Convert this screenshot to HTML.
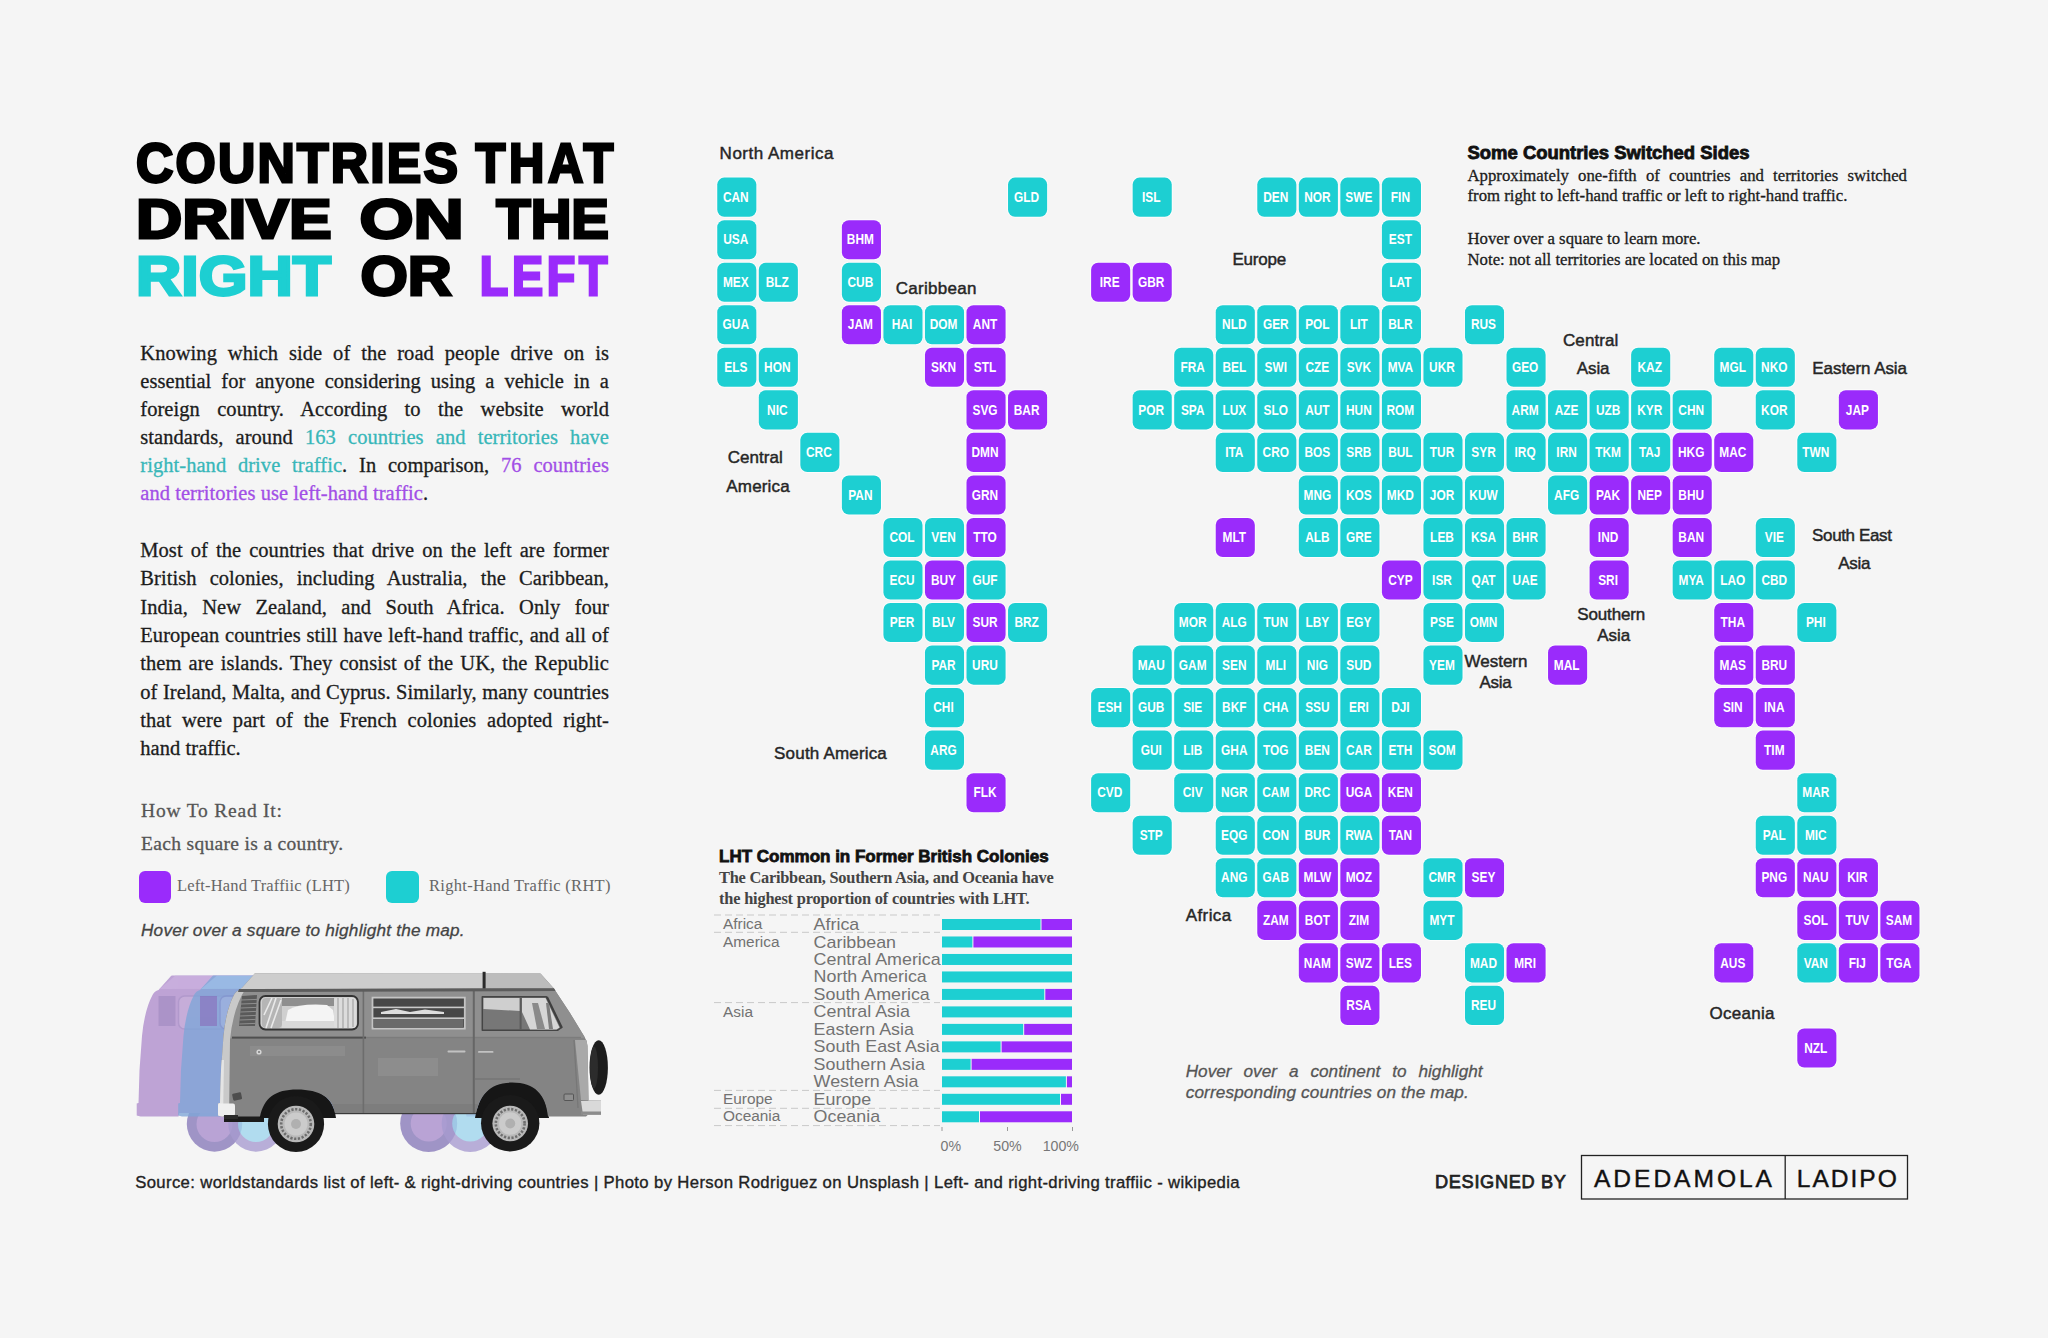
<!DOCTYPE html>
<html lang="en"><head><meta charset="utf-8">
<title>Countries that drive on the right or left</title>
<style>

html,body{margin:0;padding:0;}
body{width:2048px;height:1338px;background:#f5f5f5;position:relative;overflow:hidden;
 font-family:"Liberation Sans", sans-serif;}
#cv{position:absolute;left:0;top:0;width:2048px;height:1338px;}
#cv text{font-family:"Liberation Sans", sans-serif;}
#cv .sf{font-family:"Liberation Serif", serif;}
.j{-webkit-text-stroke:0.3px currentColor;position:absolute;white-space:nowrap;text-align:justify;text-align-last:justify;
 font-family:"Liberation Serif", serif;line-height:1;color:#1c1c1c;}
.j.l{text-align:left;text-align-last:left;}
.tl{color:#38b7b9;}
.pp{color:#a24fe6;}
.tile rect{stroke:#fff;stroke-width:2px;stroke-opacity:.7;paint-order:stroke;}
.tile text{font-weight:bold;font-size:14.5px;fill:#fff;text-anchor:middle;}

</style></head><body>
<div id="paras">
<div class="j" style="left:140.3px;top:342.63px;width:468.7px;font-size:20.5px;letter-spacing:0.05px;">Knowing which side of the road people drive on is</div>
<div class="j" style="left:140.3px;top:370.83px;width:468.7px;font-size:20.5px;letter-spacing:0.05px;">essential for anyone considering using a vehicle in a</div>
<div class="j" style="left:140.3px;top:398.93px;width:468.7px;font-size:20.5px;letter-spacing:0.05px;">foreign country. According to the website world</div>
<div class="j" style="left:140.3px;top:427.03px;width:468.7px;font-size:20.5px;letter-spacing:0.05px;">standards, around <span class="tl">163 countries and territories have</span></div>
<div class="j" style="left:140.3px;top:455.13px;width:468.7px;font-size:20.5px;letter-spacing:0.05px;"><span class="tl">right-hand drive traffic</span>. In comparison, <span class="pp">76 countries</span></div>
<div class="j l" style="left:140.3px;top:483.23px;width:468.7px;font-size:20.5px;letter-spacing:0.05px;"><span class="pp">and territories use left-hand traffic</span>.</div>
<div class="j" style="left:140.3px;top:540.13px;width:468.7px;font-size:20.5px;letter-spacing:0.05px;">Most of the countries that drive on the left are former</div>
<div class="j" style="left:140.3px;top:568.43px;width:468.7px;font-size:20.5px;letter-spacing:0.05px;">British colonies, including Australia, the Caribbean,</div>
<div class="j" style="left:140.3px;top:596.73px;width:468.7px;font-size:20.5px;letter-spacing:0.05px;">India, New Zealand, and South Africa. Only four</div>
<div class="j" style="left:140.3px;top:625.03px;width:468.7px;font-size:20.5px;letter-spacing:0.05px;">European countries still have left-hand traffic, and all of</div>
<div class="j" style="left:140.3px;top:653.33px;width:468.7px;font-size:20.5px;letter-spacing:0.05px;">them are islands. They consist of the UK, the Republic</div>
<div class="j" style="left:140.3px;top:681.63px;width:468.7px;font-size:20.5px;letter-spacing:0.05px;">of Ireland, Malta, and Cyprus. Similarly, many countries</div>
<div class="j" style="left:140.3px;top:709.93px;width:468.7px;font-size:20.5px;letter-spacing:0.05px;">that were part of the French colonies adopted right-</div>
<div class="j l" style="left:140.3px;top:738.13px;width:468.7px;font-size:20.5px;letter-spacing:0.05px;">hand traffic.</div>
</div>
<div id="notes">
<div class="j" style="left:1467.5px;top:167.67px;width:439.5px;font-size:16.75px;">Approximately one-fifth of countries and territories switched</div>
<div class="j l" style="left:1467.5px;top:188.47px;width:380.0px;font-size:16.75px;">from right to left-hand traffic or left to right-hand traffic.</div>
<div class="j l" style="left:1467.5px;top:230.97px;width:380.0px;font-size:16.75px;">Hover over a square to learn more.</div>
<div class="j l" style="left:1467.5px;top:252.47px;width:380.0px;font-size:16.75px;">Note: not all territories are located on this map</div>
</div>
<svg id="cv" width="2048" height="1338" viewBox="0 0 2048 1338">
<g id="headline">
<text transform="translate(136.0 181.8) scale(0.93 1)" font-size="55.6" font-weight="bold" fill="#000" textLength="346.2" lengthAdjust="spacing" stroke="#000" stroke-width="2.8" stroke-linejoin="miter" stroke-miterlimit="3">COUNTRIES</text>
<text transform="translate(475.4 181.8) scale(0.88 1)" font-size="55.6" font-weight="bold" fill="#000" textLength="156.8" lengthAdjust="spacing" stroke="#000" stroke-width="2.8" stroke-linejoin="miter" stroke-miterlimit="3">THAT</text>
<text x="136.0" y="238.0" font-size="55.6" font-weight="bold" font-style="normal" fill="#000" text-anchor="start" textLength="195.6" lengthAdjust="spacingAndGlyphs" stroke="#000" stroke-width="2.8" stroke-linejoin="miter" stroke-miterlimit="3">DRIVE</text>
<text x="359.4" y="238.0" font-size="55.6" font-weight="bold" font-style="normal" fill="#000" text-anchor="start" textLength="104.2" lengthAdjust="spacingAndGlyphs" stroke="#000" stroke-width="2.8" stroke-linejoin="miter" stroke-miterlimit="3">ON</text>
<text x="496.2" y="238.0" font-size="55.6" font-weight="bold" font-style="normal" fill="#000" text-anchor="start" textLength="112.8" lengthAdjust="spacingAndGlyphs" stroke="#000" stroke-width="2.8" stroke-linejoin="miter" stroke-miterlimit="3">THE</text>
<text x="136.0" y="294.8" font-size="55.6" font-weight="bold" font-style="normal" fill="#1dcfd2" text-anchor="start" textLength="195.0" lengthAdjust="spacingAndGlyphs" stroke="#1dcfd2" stroke-width="2.8" stroke-linejoin="miter" stroke-miterlimit="3">RIGHT</text>
<text x="360.4" y="294.8" font-size="55.6" font-weight="bold" font-style="normal" fill="#000" text-anchor="start" textLength="91.4" lengthAdjust="spacingAndGlyphs" stroke="#000" stroke-width="2.8" stroke-linejoin="miter" stroke-miterlimit="3">OR</text>
<text transform="translate(479.8 294.8) scale(0.84 1)" font-size="55.6" font-weight="bold" fill="#9a2bfb" textLength="152.1" lengthAdjust="spacing" stroke="#9a2bfb" stroke-width="2.8" stroke-linejoin="miter" stroke-miterlimit="3">LEFT</text>
</g>
<g id="howto">
<text x="141.0" y="817.3" font-size="19.5" font-weight="normal" font-style="normal" fill="#555" text-anchor="start" textLength="141.0" lengthAdjust="spacing" class="sf" stroke="#555" stroke-width=".3">How To Read It:</text>
<text x="141.0" y="849.8" font-size="19.5" font-weight="normal" font-style="normal" fill="#555" text-anchor="start" textLength="202.0" lengthAdjust="spacing" class="sf" stroke="#555" stroke-width=".3">Each square is a country.</text>
<rect x="139" y="871" width="32" height="32" rx="6" fill="#9a2bfb"/>
<rect x="386" y="871" width="33" height="32" rx="6" fill="#1dcfd2"/>
<text x="177.0" y="891.3" font-size="16.5" font-weight="normal" font-style="normal" fill="#666" text-anchor="start" textLength="172.7" lengthAdjust="spacing" class="sf">Left-Hand Traffiic (LHT)</text>
<text x="429.0" y="891.3" font-size="16.5" font-weight="normal" font-style="normal" fill="#666" text-anchor="start" textLength="181.5" lengthAdjust="spacing" class="sf">Right-Hand Traffic (RHT)</text>
<text x="141.0" y="935.8" font-size="17.2" font-weight="normal" font-style="italic" fill="#444" text-anchor="start" textLength="323.5" lengthAdjust="spacing" stroke="#444" stroke-width=".3">Hover over a square to highlight the map.</text>
</g>
<g id="labels">
<text x="719.6" y="158.8" font-size="17" font-weight="normal" font-style="normal" fill="#262626" text-anchor="start" textLength="113.8" lengthAdjust="spacing" stroke="#262626" stroke-width=".45">North America</text>
<text x="895.7" y="293.5" font-size="17" font-weight="normal" font-style="normal" fill="#262626" text-anchor="start" textLength="80.8" lengthAdjust="spacing" stroke="#262626" stroke-width=".45">Caribbean</text>
<text x="727.8" y="462.9" font-size="17" font-weight="normal" font-style="normal" fill="#262626" text-anchor="start" textLength="55.0" lengthAdjust="spacing" stroke="#262626" stroke-width=".45">Central</text>
<text x="726.3" y="491.9" font-size="17" font-weight="normal" font-style="normal" fill="#262626" text-anchor="start" textLength="63.4" lengthAdjust="spacing" stroke="#262626" stroke-width=".45">America</text>
<text x="774.1" y="758.8" font-size="17" font-weight="normal" font-style="normal" fill="#262626" text-anchor="start" textLength="112.7" lengthAdjust="spacing" stroke="#262626" stroke-width=".45">South America</text>
<text x="1232.5" y="265.2" font-size="17" font-weight="normal" font-style="normal" fill="#262626" text-anchor="start" textLength="53.6" lengthAdjust="spacing" stroke="#262626" stroke-width=".45">Europe</text>
<text x="1563.0" y="345.9" font-size="17" font-weight="normal" font-style="normal" fill="#262626" text-anchor="start" textLength="55.4" lengthAdjust="spacing" stroke="#262626" stroke-width=".45">Central</text>
<text x="1576.8" y="373.9" font-size="17" font-weight="normal" font-style="normal" fill="#262626" text-anchor="start" textLength="32.7" lengthAdjust="spacing" stroke="#262626" stroke-width=".45">Asia</text>
<text x="1812.3" y="373.9" font-size="17" font-weight="normal" font-style="normal" fill="#262626" text-anchor="start" textLength="94.7" lengthAdjust="spacing" stroke="#262626" stroke-width=".45">Eastern Asia</text>
<text x="1812.1" y="541.1" font-size="17" font-weight="normal" font-style="normal" fill="#262626" text-anchor="start" textLength="79.8" lengthAdjust="spacing" stroke="#262626" stroke-width=".45">South East</text>
<text x="1838.3" y="568.6" font-size="17" font-weight="normal" font-style="normal" fill="#262626" text-anchor="start" textLength="32.1" lengthAdjust="spacing" stroke="#262626" stroke-width=".45">Asia</text>
<text x="1577.3" y="620.1" font-size="17" font-weight="normal" font-style="normal" fill="#262626" text-anchor="start" textLength="68.0" lengthAdjust="spacing" stroke="#262626" stroke-width=".45">Southern</text>
<text x="1597.2" y="640.5" font-size="17" font-weight="normal" font-style="normal" fill="#262626" text-anchor="start" textLength="32.9" lengthAdjust="spacing" stroke="#262626" stroke-width=".45">Asia</text>
<text x="1464.5" y="666.7" font-size="17" font-weight="normal" font-style="normal" fill="#262626" text-anchor="start" textLength="63.0" lengthAdjust="spacing" stroke="#262626" stroke-width=".45">Western</text>
<text x="1479.4" y="687.7" font-size="17" font-weight="normal" font-style="normal" fill="#262626" text-anchor="start" textLength="32.2" lengthAdjust="spacing" stroke="#262626" stroke-width=".45">Asia</text>
<text x="1185.7" y="921.4" font-size="17" font-weight="normal" font-style="normal" fill="#262626" text-anchor="start" textLength="45.5" lengthAdjust="spacing" stroke="#262626" stroke-width=".45">Africa</text>
<text x="1709.6" y="1019.0" font-size="17" font-weight="normal" font-style="normal" fill="#262626" text-anchor="start" textLength="64.9" lengthAdjust="spacing" stroke="#262626" stroke-width=".45">Oceania</text>
</g>
<text x="1467.5" y="159.4" font-size="17.5" font-weight="bold" font-style="normal" fill="#111" text-anchor="start" textLength="282.0" lengthAdjust="spacingAndGlyphs" stroke="#111" stroke-width=".8">Some Countries Switched Sides</text>
<g id="hovernote" font-style="italic">
<text x="1185.7" y="1077.0" font-size="17.2" font-weight="normal" font-style="italic" fill="#555" text-anchor="start" word-spacing="7.2" stroke="#555" stroke-width=".3">Hover over a continent to highlight</text>
<text x="1185.7" y="1097.7" font-size="17.2" font-weight="normal" font-style="italic" fill="#555" text-anchor="start" textLength="283.1" lengthAdjust="spacing" stroke="#555" stroke-width=".3">corresponding countries on the map.</text>
</g>
<g id="tiles">
<g class="tile"><rect x="717.25" y="177.60" width="39.1" height="39.1" rx="7" fill="#1dcfd2"/><text transform="translate(735.8 201.8) scale(.82 1)">CAN</text></g>
<g class="tile"><rect x="1008.03" y="177.60" width="39.1" height="39.1" rx="7" fill="#1dcfd2"/><text transform="translate(1026.6 201.8) scale(.82 1)">GLD</text></g>
<g class="tile"><rect x="1132.65" y="177.60" width="39.1" height="39.1" rx="7" fill="#1dcfd2"/><text transform="translate(1151.2 201.8) scale(.82 1)">ISL</text></g>
<g class="tile"><rect x="1257.27" y="177.60" width="39.1" height="39.1" rx="7" fill="#1dcfd2"/><text transform="translate(1275.8 201.8) scale(.82 1)">DEN</text></g>
<g class="tile"><rect x="1298.81" y="177.60" width="39.1" height="39.1" rx="7" fill="#1dcfd2"/><text transform="translate(1317.4 201.8) scale(.82 1)">NOR</text></g>
<g class="tile"><rect x="1340.35" y="177.60" width="39.1" height="39.1" rx="7" fill="#1dcfd2"/><text transform="translate(1358.9 201.8) scale(.82 1)">SWE</text></g>
<g class="tile"><rect x="1381.89" y="177.60" width="39.1" height="39.1" rx="7" fill="#1dcfd2"/><text transform="translate(1400.4 201.8) scale(.82 1)">FIN</text></g>
<g class="tile"><rect x="717.25" y="220.14" width="39.1" height="39.1" rx="7" fill="#1dcfd2"/><text transform="translate(735.8 244.3) scale(.82 1)">USA</text></g>
<g class="tile"><rect x="841.87" y="220.14" width="39.1" height="39.1" rx="7" fill="#9a2bfb"/><text transform="translate(860.4 244.3) scale(.82 1)">BHM</text></g>
<g class="tile"><rect x="1381.89" y="220.14" width="39.1" height="39.1" rx="7" fill="#1dcfd2"/><text transform="translate(1400.4 244.3) scale(.82 1)">EST</text></g>
<g class="tile"><rect x="717.25" y="262.68" width="39.1" height="39.1" rx="7" fill="#1dcfd2"/><text transform="translate(735.8 286.8) scale(.82 1)">MEX</text></g>
<g class="tile"><rect x="758.79" y="262.68" width="39.1" height="39.1" rx="7" fill="#1dcfd2"/><text transform="translate(777.3 286.8) scale(.82 1)">BLZ</text></g>
<g class="tile"><rect x="841.87" y="262.68" width="39.1" height="39.1" rx="7" fill="#1dcfd2"/><text transform="translate(860.4 286.8) scale(.82 1)">CUB</text></g>
<g class="tile"><rect x="1091.11" y="262.68" width="39.1" height="39.1" rx="7" fill="#9a2bfb"/><text transform="translate(1109.7 286.8) scale(.82 1)">IRE</text></g>
<g class="tile"><rect x="1132.65" y="262.68" width="39.1" height="39.1" rx="7" fill="#9a2bfb"/><text transform="translate(1151.2 286.8) scale(.82 1)">GBR</text></g>
<g class="tile"><rect x="1381.89" y="262.68" width="39.1" height="39.1" rx="7" fill="#1dcfd2"/><text transform="translate(1400.4 286.8) scale(.82 1)">LAT</text></g>
<g class="tile"><rect x="717.25" y="305.22" width="39.1" height="39.1" rx="7" fill="#1dcfd2"/><text transform="translate(735.8 329.4) scale(.82 1)">GUA</text></g>
<g class="tile"><rect x="841.87" y="305.22" width="39.1" height="39.1" rx="7" fill="#9a2bfb"/><text transform="translate(860.4 329.4) scale(.82 1)">JAM</text></g>
<g class="tile"><rect x="883.41" y="305.22" width="39.1" height="39.1" rx="7" fill="#1dcfd2"/><text transform="translate(902.0 329.4) scale(.82 1)">HAI</text></g>
<g class="tile"><rect x="924.95" y="305.22" width="39.1" height="39.1" rx="7" fill="#1dcfd2"/><text transform="translate(943.5 329.4) scale(.82 1)">DOM</text></g>
<g class="tile"><rect x="966.49" y="305.22" width="39.1" height="39.1" rx="7" fill="#9a2bfb"/><text transform="translate(985.0 329.4) scale(.82 1)">ANT</text></g>
<g class="tile"><rect x="1215.73" y="305.22" width="39.1" height="39.1" rx="7" fill="#1dcfd2"/><text transform="translate(1234.3 329.4) scale(.82 1)">NLD</text></g>
<g class="tile"><rect x="1257.27" y="305.22" width="39.1" height="39.1" rx="7" fill="#1dcfd2"/><text transform="translate(1275.8 329.4) scale(.82 1)">GER</text></g>
<g class="tile"><rect x="1298.81" y="305.22" width="39.1" height="39.1" rx="7" fill="#1dcfd2"/><text transform="translate(1317.4 329.4) scale(.82 1)">POL</text></g>
<g class="tile"><rect x="1340.35" y="305.22" width="39.1" height="39.1" rx="7" fill="#1dcfd2"/><text transform="translate(1358.9 329.4) scale(.82 1)">LIT</text></g>
<g class="tile"><rect x="1381.89" y="305.22" width="39.1" height="39.1" rx="7" fill="#1dcfd2"/><text transform="translate(1400.4 329.4) scale(.82 1)">BLR</text></g>
<g class="tile"><rect x="1464.97" y="305.22" width="39.1" height="39.1" rx="7" fill="#1dcfd2"/><text transform="translate(1483.5 329.4) scale(.82 1)">RUS</text></g>
<g class="tile"><rect x="717.25" y="347.76" width="39.1" height="39.1" rx="7" fill="#1dcfd2"/><text transform="translate(735.8 371.9) scale(.82 1)">ELS</text></g>
<g class="tile"><rect x="758.79" y="347.76" width="39.1" height="39.1" rx="7" fill="#1dcfd2"/><text transform="translate(777.3 371.9) scale(.82 1)">HON</text></g>
<g class="tile"><rect x="924.95" y="347.76" width="39.1" height="39.1" rx="7" fill="#9a2bfb"/><text transform="translate(943.5 371.9) scale(.82 1)">SKN</text></g>
<g class="tile"><rect x="966.49" y="347.76" width="39.1" height="39.1" rx="7" fill="#9a2bfb"/><text transform="translate(985.0 371.9) scale(.82 1)">STL</text></g>
<g class="tile"><rect x="1174.19" y="347.76" width="39.1" height="39.1" rx="7" fill="#1dcfd2"/><text transform="translate(1192.7 371.9) scale(.82 1)">FRA</text></g>
<g class="tile"><rect x="1215.73" y="347.76" width="39.1" height="39.1" rx="7" fill="#1dcfd2"/><text transform="translate(1234.3 371.9) scale(.82 1)">BEL</text></g>
<g class="tile"><rect x="1257.27" y="347.76" width="39.1" height="39.1" rx="7" fill="#1dcfd2"/><text transform="translate(1275.8 371.9) scale(.82 1)">SWI</text></g>
<g class="tile"><rect x="1298.81" y="347.76" width="39.1" height="39.1" rx="7" fill="#1dcfd2"/><text transform="translate(1317.4 371.9) scale(.82 1)">CZE</text></g>
<g class="tile"><rect x="1340.35" y="347.76" width="39.1" height="39.1" rx="7" fill="#1dcfd2"/><text transform="translate(1358.9 371.9) scale(.82 1)">SVK</text></g>
<g class="tile"><rect x="1381.89" y="347.76" width="39.1" height="39.1" rx="7" fill="#1dcfd2"/><text transform="translate(1400.4 371.9) scale(.82 1)">MVA</text></g>
<g class="tile"><rect x="1423.43" y="347.76" width="39.1" height="39.1" rx="7" fill="#1dcfd2"/><text transform="translate(1442.0 371.9) scale(.82 1)">UKR</text></g>
<g class="tile"><rect x="1506.51" y="347.76" width="39.1" height="39.1" rx="7" fill="#1dcfd2"/><text transform="translate(1525.1 371.9) scale(.82 1)">GEO</text></g>
<g class="tile"><rect x="1631.13" y="347.76" width="39.1" height="39.1" rx="7" fill="#1dcfd2"/><text transform="translate(1649.7 371.9) scale(.82 1)">KAZ</text></g>
<g class="tile"><rect x="1714.21" y="347.76" width="39.1" height="39.1" rx="7" fill="#1dcfd2"/><text transform="translate(1732.8 371.9) scale(.82 1)">MGL</text></g>
<g class="tile"><rect x="1755.75" y="347.76" width="39.1" height="39.1" rx="7" fill="#1dcfd2"/><text transform="translate(1774.3 371.9) scale(.82 1)">NKO</text></g>
<g class="tile"><rect x="758.79" y="390.30" width="39.1" height="39.1" rx="7" fill="#1dcfd2"/><text transform="translate(777.3 414.5) scale(.82 1)">NIC</text></g>
<g class="tile"><rect x="966.49" y="390.30" width="39.1" height="39.1" rx="7" fill="#9a2bfb"/><text transform="translate(985.0 414.5) scale(.82 1)">SVG</text></g>
<g class="tile"><rect x="1008.03" y="390.30" width="39.1" height="39.1" rx="7" fill="#9a2bfb"/><text transform="translate(1026.6 414.5) scale(.82 1)">BAR</text></g>
<g class="tile"><rect x="1132.65" y="390.30" width="39.1" height="39.1" rx="7" fill="#1dcfd2"/><text transform="translate(1151.2 414.5) scale(.82 1)">POR</text></g>
<g class="tile"><rect x="1174.19" y="390.30" width="39.1" height="39.1" rx="7" fill="#1dcfd2"/><text transform="translate(1192.7 414.5) scale(.82 1)">SPA</text></g>
<g class="tile"><rect x="1215.73" y="390.30" width="39.1" height="39.1" rx="7" fill="#1dcfd2"/><text transform="translate(1234.3 414.5) scale(.82 1)">LUX</text></g>
<g class="tile"><rect x="1257.27" y="390.30" width="39.1" height="39.1" rx="7" fill="#1dcfd2"/><text transform="translate(1275.8 414.5) scale(.82 1)">SLO</text></g>
<g class="tile"><rect x="1298.81" y="390.30" width="39.1" height="39.1" rx="7" fill="#1dcfd2"/><text transform="translate(1317.4 414.5) scale(.82 1)">AUT</text></g>
<g class="tile"><rect x="1340.35" y="390.30" width="39.1" height="39.1" rx="7" fill="#1dcfd2"/><text transform="translate(1358.9 414.5) scale(.82 1)">HUN</text></g>
<g class="tile"><rect x="1381.89" y="390.30" width="39.1" height="39.1" rx="7" fill="#1dcfd2"/><text transform="translate(1400.4 414.5) scale(.82 1)">ROM</text></g>
<g class="tile"><rect x="1506.51" y="390.30" width="39.1" height="39.1" rx="7" fill="#1dcfd2"/><text transform="translate(1525.1 414.5) scale(.82 1)">ARM</text></g>
<g class="tile"><rect x="1548.05" y="390.30" width="39.1" height="39.1" rx="7" fill="#1dcfd2"/><text transform="translate(1566.6 414.5) scale(.82 1)">AZE</text></g>
<g class="tile"><rect x="1589.59" y="390.30" width="39.1" height="39.1" rx="7" fill="#1dcfd2"/><text transform="translate(1608.1 414.5) scale(.82 1)">UZB</text></g>
<g class="tile"><rect x="1631.13" y="390.30" width="39.1" height="39.1" rx="7" fill="#1dcfd2"/><text transform="translate(1649.7 414.5) scale(.82 1)">KYR</text></g>
<g class="tile"><rect x="1672.67" y="390.30" width="39.1" height="39.1" rx="7" fill="#1dcfd2"/><text transform="translate(1691.2 414.5) scale(.82 1)">CHN</text></g>
<g class="tile"><rect x="1755.75" y="390.30" width="39.1" height="39.1" rx="7" fill="#1dcfd2"/><text transform="translate(1774.3 414.5) scale(.82 1)">KOR</text></g>
<g class="tile"><rect x="1838.83" y="390.30" width="39.1" height="39.1" rx="7" fill="#9a2bfb"/><text transform="translate(1857.4 414.5) scale(.82 1)">JAP</text></g>
<g class="tile"><rect x="800.33" y="432.84" width="39.1" height="39.1" rx="7" fill="#1dcfd2"/><text transform="translate(818.9 457.0) scale(.82 1)">CRC</text></g>
<g class="tile"><rect x="966.49" y="432.84" width="39.1" height="39.1" rx="7" fill="#9a2bfb"/><text transform="translate(985.0 457.0) scale(.82 1)">DMN</text></g>
<g class="tile"><rect x="1215.73" y="432.84" width="39.1" height="39.1" rx="7" fill="#1dcfd2"/><text transform="translate(1234.3 457.0) scale(.82 1)">ITA</text></g>
<g class="tile"><rect x="1257.27" y="432.84" width="39.1" height="39.1" rx="7" fill="#1dcfd2"/><text transform="translate(1275.8 457.0) scale(.82 1)">CRO</text></g>
<g class="tile"><rect x="1298.81" y="432.84" width="39.1" height="39.1" rx="7" fill="#1dcfd2"/><text transform="translate(1317.4 457.0) scale(.82 1)">BOS</text></g>
<g class="tile"><rect x="1340.35" y="432.84" width="39.1" height="39.1" rx="7" fill="#1dcfd2"/><text transform="translate(1358.9 457.0) scale(.82 1)">SRB</text></g>
<g class="tile"><rect x="1381.89" y="432.84" width="39.1" height="39.1" rx="7" fill="#1dcfd2"/><text transform="translate(1400.4 457.0) scale(.82 1)">BUL</text></g>
<g class="tile"><rect x="1423.43" y="432.84" width="39.1" height="39.1" rx="7" fill="#1dcfd2"/><text transform="translate(1442.0 457.0) scale(.82 1)">TUR</text></g>
<g class="tile"><rect x="1464.97" y="432.84" width="39.1" height="39.1" rx="7" fill="#1dcfd2"/><text transform="translate(1483.5 457.0) scale(.82 1)">SYR</text></g>
<g class="tile"><rect x="1506.51" y="432.84" width="39.1" height="39.1" rx="7" fill="#1dcfd2"/><text transform="translate(1525.1 457.0) scale(.82 1)">IRQ</text></g>
<g class="tile"><rect x="1548.05" y="432.84" width="39.1" height="39.1" rx="7" fill="#1dcfd2"/><text transform="translate(1566.6 457.0) scale(.82 1)">IRN</text></g>
<g class="tile"><rect x="1589.59" y="432.84" width="39.1" height="39.1" rx="7" fill="#1dcfd2"/><text transform="translate(1608.1 457.0) scale(.82 1)">TKM</text></g>
<g class="tile"><rect x="1631.13" y="432.84" width="39.1" height="39.1" rx="7" fill="#1dcfd2"/><text transform="translate(1649.7 457.0) scale(.82 1)">TAJ</text></g>
<g class="tile"><rect x="1672.67" y="432.84" width="39.1" height="39.1" rx="7" fill="#9a2bfb"/><text transform="translate(1691.2 457.0) scale(.82 1)">HKG</text></g>
<g class="tile"><rect x="1714.21" y="432.84" width="39.1" height="39.1" rx="7" fill="#9a2bfb"/><text transform="translate(1732.8 457.0) scale(.82 1)">MAC</text></g>
<g class="tile"><rect x="1797.29" y="432.84" width="39.1" height="39.1" rx="7" fill="#1dcfd2"/><text transform="translate(1815.8 457.0) scale(.82 1)">TWN</text></g>
<g class="tile"><rect x="841.87" y="475.38" width="39.1" height="39.1" rx="7" fill="#1dcfd2"/><text transform="translate(860.4 499.5) scale(.82 1)">PAN</text></g>
<g class="tile"><rect x="966.49" y="475.38" width="39.1" height="39.1" rx="7" fill="#9a2bfb"/><text transform="translate(985.0 499.5) scale(.82 1)">GRN</text></g>
<g class="tile"><rect x="1298.81" y="475.38" width="39.1" height="39.1" rx="7" fill="#1dcfd2"/><text transform="translate(1317.4 499.5) scale(.82 1)">MNG</text></g>
<g class="tile"><rect x="1340.35" y="475.38" width="39.1" height="39.1" rx="7" fill="#1dcfd2"/><text transform="translate(1358.9 499.5) scale(.82 1)">KOS</text></g>
<g class="tile"><rect x="1381.89" y="475.38" width="39.1" height="39.1" rx="7" fill="#1dcfd2"/><text transform="translate(1400.4 499.5) scale(.82 1)">MKD</text></g>
<g class="tile"><rect x="1423.43" y="475.38" width="39.1" height="39.1" rx="7" fill="#1dcfd2"/><text transform="translate(1442.0 499.5) scale(.82 1)">JOR</text></g>
<g class="tile"><rect x="1464.97" y="475.38" width="39.1" height="39.1" rx="7" fill="#1dcfd2"/><text transform="translate(1483.5 499.5) scale(.82 1)">KUW</text></g>
<g class="tile"><rect x="1548.05" y="475.38" width="39.1" height="39.1" rx="7" fill="#1dcfd2"/><text transform="translate(1566.6 499.5) scale(.82 1)">AFG</text></g>
<g class="tile"><rect x="1589.59" y="475.38" width="39.1" height="39.1" rx="7" fill="#9a2bfb"/><text transform="translate(1608.1 499.5) scale(.82 1)">PAK</text></g>
<g class="tile"><rect x="1631.13" y="475.38" width="39.1" height="39.1" rx="7" fill="#9a2bfb"/><text transform="translate(1649.7 499.5) scale(.82 1)">NEP</text></g>
<g class="tile"><rect x="1672.67" y="475.38" width="39.1" height="39.1" rx="7" fill="#9a2bfb"/><text transform="translate(1691.2 499.5) scale(.82 1)">BHU</text></g>
<g class="tile"><rect x="883.41" y="517.92" width="39.1" height="39.1" rx="7" fill="#1dcfd2"/><text transform="translate(902.0 542.1) scale(.82 1)">COL</text></g>
<g class="tile"><rect x="924.95" y="517.92" width="39.1" height="39.1" rx="7" fill="#1dcfd2"/><text transform="translate(943.5 542.1) scale(.82 1)">VEN</text></g>
<g class="tile"><rect x="966.49" y="517.92" width="39.1" height="39.1" rx="7" fill="#9a2bfb"/><text transform="translate(985.0 542.1) scale(.82 1)">TTO</text></g>
<g class="tile"><rect x="1215.73" y="517.92" width="39.1" height="39.1" rx="7" fill="#9a2bfb"/><text transform="translate(1234.3 542.1) scale(.82 1)">MLT</text></g>
<g class="tile"><rect x="1298.81" y="517.92" width="39.1" height="39.1" rx="7" fill="#1dcfd2"/><text transform="translate(1317.4 542.1) scale(.82 1)">ALB</text></g>
<g class="tile"><rect x="1340.35" y="517.92" width="39.1" height="39.1" rx="7" fill="#1dcfd2"/><text transform="translate(1358.9 542.1) scale(.82 1)">GRE</text></g>
<g class="tile"><rect x="1423.43" y="517.92" width="39.1" height="39.1" rx="7" fill="#1dcfd2"/><text transform="translate(1442.0 542.1) scale(.82 1)">LEB</text></g>
<g class="tile"><rect x="1464.97" y="517.92" width="39.1" height="39.1" rx="7" fill="#1dcfd2"/><text transform="translate(1483.5 542.1) scale(.82 1)">KSA</text></g>
<g class="tile"><rect x="1506.51" y="517.92" width="39.1" height="39.1" rx="7" fill="#1dcfd2"/><text transform="translate(1525.1 542.1) scale(.82 1)">BHR</text></g>
<g class="tile"><rect x="1589.59" y="517.92" width="39.1" height="39.1" rx="7" fill="#9a2bfb"/><text transform="translate(1608.1 542.1) scale(.82 1)">IND</text></g>
<g class="tile"><rect x="1672.67" y="517.92" width="39.1" height="39.1" rx="7" fill="#9a2bfb"/><text transform="translate(1691.2 542.1) scale(.82 1)">BAN</text></g>
<g class="tile"><rect x="1755.75" y="517.92" width="39.1" height="39.1" rx="7" fill="#1dcfd2"/><text transform="translate(1774.3 542.1) scale(.82 1)">VIE</text></g>
<g class="tile"><rect x="883.41" y="560.46" width="39.1" height="39.1" rx="7" fill="#1dcfd2"/><text transform="translate(902.0 584.6) scale(.82 1)">ECU</text></g>
<g class="tile"><rect x="924.95" y="560.46" width="39.1" height="39.1" rx="7" fill="#9a2bfb"/><text transform="translate(943.5 584.6) scale(.82 1)">BUY</text></g>
<g class="tile"><rect x="966.49" y="560.46" width="39.1" height="39.1" rx="7" fill="#1dcfd2"/><text transform="translate(985.0 584.6) scale(.82 1)">GUF</text></g>
<g class="tile"><rect x="1381.89" y="560.46" width="39.1" height="39.1" rx="7" fill="#9a2bfb"/><text transform="translate(1400.4 584.6) scale(.82 1)">CYP</text></g>
<g class="tile"><rect x="1423.43" y="560.46" width="39.1" height="39.1" rx="7" fill="#1dcfd2"/><text transform="translate(1442.0 584.6) scale(.82 1)">ISR</text></g>
<g class="tile"><rect x="1464.97" y="560.46" width="39.1" height="39.1" rx="7" fill="#1dcfd2"/><text transform="translate(1483.5 584.6) scale(.82 1)">QAT</text></g>
<g class="tile"><rect x="1506.51" y="560.46" width="39.1" height="39.1" rx="7" fill="#1dcfd2"/><text transform="translate(1525.1 584.6) scale(.82 1)">UAE</text></g>
<g class="tile"><rect x="1589.59" y="560.46" width="39.1" height="39.1" rx="7" fill="#9a2bfb"/><text transform="translate(1608.1 584.6) scale(.82 1)">SRI</text></g>
<g class="tile"><rect x="1672.67" y="560.46" width="39.1" height="39.1" rx="7" fill="#1dcfd2"/><text transform="translate(1691.2 584.6) scale(.82 1)">MYA</text></g>
<g class="tile"><rect x="1714.21" y="560.46" width="39.1" height="39.1" rx="7" fill="#1dcfd2"/><text transform="translate(1732.8 584.6) scale(.82 1)">LAO</text></g>
<g class="tile"><rect x="1755.75" y="560.46" width="39.1" height="39.1" rx="7" fill="#1dcfd2"/><text transform="translate(1774.3 584.6) scale(.82 1)">CBD</text></g>
<g class="tile"><rect x="883.41" y="603.00" width="39.1" height="39.1" rx="7" fill="#1dcfd2"/><text transform="translate(902.0 627.1) scale(.82 1)">PER</text></g>
<g class="tile"><rect x="924.95" y="603.00" width="39.1" height="39.1" rx="7" fill="#1dcfd2"/><text transform="translate(943.5 627.1) scale(.82 1)">BLV</text></g>
<g class="tile"><rect x="966.49" y="603.00" width="39.1" height="39.1" rx="7" fill="#9a2bfb"/><text transform="translate(985.0 627.1) scale(.82 1)">SUR</text></g>
<g class="tile"><rect x="1008.03" y="603.00" width="39.1" height="39.1" rx="7" fill="#1dcfd2"/><text transform="translate(1026.6 627.1) scale(.82 1)">BRZ</text></g>
<g class="tile"><rect x="1174.19" y="603.00" width="39.1" height="39.1" rx="7" fill="#1dcfd2"/><text transform="translate(1192.7 627.1) scale(.82 1)">MOR</text></g>
<g class="tile"><rect x="1215.73" y="603.00" width="39.1" height="39.1" rx="7" fill="#1dcfd2"/><text transform="translate(1234.3 627.1) scale(.82 1)">ALG</text></g>
<g class="tile"><rect x="1257.27" y="603.00" width="39.1" height="39.1" rx="7" fill="#1dcfd2"/><text transform="translate(1275.8 627.1) scale(.82 1)">TUN</text></g>
<g class="tile"><rect x="1298.81" y="603.00" width="39.1" height="39.1" rx="7" fill="#1dcfd2"/><text transform="translate(1317.4 627.1) scale(.82 1)">LBY</text></g>
<g class="tile"><rect x="1340.35" y="603.00" width="39.1" height="39.1" rx="7" fill="#1dcfd2"/><text transform="translate(1358.9 627.1) scale(.82 1)">EGY</text></g>
<g class="tile"><rect x="1423.43" y="603.00" width="39.1" height="39.1" rx="7" fill="#1dcfd2"/><text transform="translate(1442.0 627.1) scale(.82 1)">PSE</text></g>
<g class="tile"><rect x="1464.97" y="603.00" width="39.1" height="39.1" rx="7" fill="#1dcfd2"/><text transform="translate(1483.5 627.1) scale(.82 1)">OMN</text></g>
<g class="tile"><rect x="1714.21" y="603.00" width="39.1" height="39.1" rx="7" fill="#9a2bfb"/><text transform="translate(1732.8 627.1) scale(.82 1)">THA</text></g>
<g class="tile"><rect x="1797.29" y="603.00" width="39.1" height="39.1" rx="7" fill="#1dcfd2"/><text transform="translate(1815.8 627.1) scale(.82 1)">PHI</text></g>
<g class="tile"><rect x="924.95" y="645.54" width="39.1" height="39.1" rx="7" fill="#1dcfd2"/><text transform="translate(943.5 669.7) scale(.82 1)">PAR</text></g>
<g class="tile"><rect x="966.49" y="645.54" width="39.1" height="39.1" rx="7" fill="#1dcfd2"/><text transform="translate(985.0 669.7) scale(.82 1)">URU</text></g>
<g class="tile"><rect x="1132.65" y="645.54" width="39.1" height="39.1" rx="7" fill="#1dcfd2"/><text transform="translate(1151.2 669.7) scale(.82 1)">MAU</text></g>
<g class="tile"><rect x="1174.19" y="645.54" width="39.1" height="39.1" rx="7" fill="#1dcfd2"/><text transform="translate(1192.7 669.7) scale(.82 1)">GAM</text></g>
<g class="tile"><rect x="1215.73" y="645.54" width="39.1" height="39.1" rx="7" fill="#1dcfd2"/><text transform="translate(1234.3 669.7) scale(.82 1)">SEN</text></g>
<g class="tile"><rect x="1257.27" y="645.54" width="39.1" height="39.1" rx="7" fill="#1dcfd2"/><text transform="translate(1275.8 669.7) scale(.82 1)">MLI</text></g>
<g class="tile"><rect x="1298.81" y="645.54" width="39.1" height="39.1" rx="7" fill="#1dcfd2"/><text transform="translate(1317.4 669.7) scale(.82 1)">NIG</text></g>
<g class="tile"><rect x="1340.35" y="645.54" width="39.1" height="39.1" rx="7" fill="#1dcfd2"/><text transform="translate(1358.9 669.7) scale(.82 1)">SUD</text></g>
<g class="tile"><rect x="1423.43" y="645.54" width="39.1" height="39.1" rx="7" fill="#1dcfd2"/><text transform="translate(1442.0 669.7) scale(.82 1)">YEM</text></g>
<g class="tile"><rect x="1548.05" y="645.54" width="39.1" height="39.1" rx="7" fill="#9a2bfb"/><text transform="translate(1566.6 669.7) scale(.82 1)">MAL</text></g>
<g class="tile"><rect x="1714.21" y="645.54" width="39.1" height="39.1" rx="7" fill="#9a2bfb"/><text transform="translate(1732.8 669.7) scale(.82 1)">MAS</text></g>
<g class="tile"><rect x="1755.75" y="645.54" width="39.1" height="39.1" rx="7" fill="#9a2bfb"/><text transform="translate(1774.3 669.7) scale(.82 1)">BRU</text></g>
<g class="tile"><rect x="924.95" y="688.08" width="39.1" height="39.1" rx="7" fill="#1dcfd2"/><text transform="translate(943.5 712.2) scale(.82 1)">CHI</text></g>
<g class="tile"><rect x="1091.11" y="688.08" width="39.1" height="39.1" rx="7" fill="#1dcfd2"/><text transform="translate(1109.7 712.2) scale(.82 1)">ESH</text></g>
<g class="tile"><rect x="1132.65" y="688.08" width="39.1" height="39.1" rx="7" fill="#1dcfd2"/><text transform="translate(1151.2 712.2) scale(.82 1)">GUB</text></g>
<g class="tile"><rect x="1174.19" y="688.08" width="39.1" height="39.1" rx="7" fill="#1dcfd2"/><text transform="translate(1192.7 712.2) scale(.82 1)">SIE</text></g>
<g class="tile"><rect x="1215.73" y="688.08" width="39.1" height="39.1" rx="7" fill="#1dcfd2"/><text transform="translate(1234.3 712.2) scale(.82 1)">BKF</text></g>
<g class="tile"><rect x="1257.27" y="688.08" width="39.1" height="39.1" rx="7" fill="#1dcfd2"/><text transform="translate(1275.8 712.2) scale(.82 1)">CHA</text></g>
<g class="tile"><rect x="1298.81" y="688.08" width="39.1" height="39.1" rx="7" fill="#1dcfd2"/><text transform="translate(1317.4 712.2) scale(.82 1)">SSU</text></g>
<g class="tile"><rect x="1340.35" y="688.08" width="39.1" height="39.1" rx="7" fill="#1dcfd2"/><text transform="translate(1358.9 712.2) scale(.82 1)">ERI</text></g>
<g class="tile"><rect x="1381.89" y="688.08" width="39.1" height="39.1" rx="7" fill="#1dcfd2"/><text transform="translate(1400.4 712.2) scale(.82 1)">DJI</text></g>
<g class="tile"><rect x="1714.21" y="688.08" width="39.1" height="39.1" rx="7" fill="#9a2bfb"/><text transform="translate(1732.8 712.2) scale(.82 1)">SIN</text></g>
<g class="tile"><rect x="1755.75" y="688.08" width="39.1" height="39.1" rx="7" fill="#9a2bfb"/><text transform="translate(1774.3 712.2) scale(.82 1)">INA</text></g>
<g class="tile"><rect x="924.95" y="730.62" width="39.1" height="39.1" rx="7" fill="#1dcfd2"/><text transform="translate(943.5 754.8) scale(.82 1)">ARG</text></g>
<g class="tile"><rect x="1132.65" y="730.62" width="39.1" height="39.1" rx="7" fill="#1dcfd2"/><text transform="translate(1151.2 754.8) scale(.82 1)">GUI</text></g>
<g class="tile"><rect x="1174.19" y="730.62" width="39.1" height="39.1" rx="7" fill="#1dcfd2"/><text transform="translate(1192.7 754.8) scale(.82 1)">LIB</text></g>
<g class="tile"><rect x="1215.73" y="730.62" width="39.1" height="39.1" rx="7" fill="#1dcfd2"/><text transform="translate(1234.3 754.8) scale(.82 1)">GHA</text></g>
<g class="tile"><rect x="1257.27" y="730.62" width="39.1" height="39.1" rx="7" fill="#1dcfd2"/><text transform="translate(1275.8 754.8) scale(.82 1)">TOG</text></g>
<g class="tile"><rect x="1298.81" y="730.62" width="39.1" height="39.1" rx="7" fill="#1dcfd2"/><text transform="translate(1317.4 754.8) scale(.82 1)">BEN</text></g>
<g class="tile"><rect x="1340.35" y="730.62" width="39.1" height="39.1" rx="7" fill="#1dcfd2"/><text transform="translate(1358.9 754.8) scale(.82 1)">CAR</text></g>
<g class="tile"><rect x="1381.89" y="730.62" width="39.1" height="39.1" rx="7" fill="#1dcfd2"/><text transform="translate(1400.4 754.8) scale(.82 1)">ETH</text></g>
<g class="tile"><rect x="1423.43" y="730.62" width="39.1" height="39.1" rx="7" fill="#1dcfd2"/><text transform="translate(1442.0 754.8) scale(.82 1)">SOM</text></g>
<g class="tile"><rect x="1755.75" y="730.62" width="39.1" height="39.1" rx="7" fill="#9a2bfb"/><text transform="translate(1774.3 754.8) scale(.82 1)">TIM</text></g>
<g class="tile"><rect x="966.49" y="773.16" width="39.1" height="39.1" rx="7" fill="#9a2bfb"/><text transform="translate(985.0 797.3) scale(.82 1)">FLK</text></g>
<g class="tile"><rect x="1091.11" y="773.16" width="39.1" height="39.1" rx="7" fill="#1dcfd2"/><text transform="translate(1109.7 797.3) scale(.82 1)">CVD</text></g>
<g class="tile"><rect x="1174.19" y="773.16" width="39.1" height="39.1" rx="7" fill="#1dcfd2"/><text transform="translate(1192.7 797.3) scale(.82 1)">CIV</text></g>
<g class="tile"><rect x="1215.73" y="773.16" width="39.1" height="39.1" rx="7" fill="#1dcfd2"/><text transform="translate(1234.3 797.3) scale(.82 1)">NGR</text></g>
<g class="tile"><rect x="1257.27" y="773.16" width="39.1" height="39.1" rx="7" fill="#1dcfd2"/><text transform="translate(1275.8 797.3) scale(.82 1)">CAM</text></g>
<g class="tile"><rect x="1298.81" y="773.16" width="39.1" height="39.1" rx="7" fill="#1dcfd2"/><text transform="translate(1317.4 797.3) scale(.82 1)">DRC</text></g>
<g class="tile"><rect x="1340.35" y="773.16" width="39.1" height="39.1" rx="7" fill="#9a2bfb"/><text transform="translate(1358.9 797.3) scale(.82 1)">UGA</text></g>
<g class="tile"><rect x="1381.89" y="773.16" width="39.1" height="39.1" rx="7" fill="#9a2bfb"/><text transform="translate(1400.4 797.3) scale(.82 1)">KEN</text></g>
<g class="tile"><rect x="1797.29" y="773.16" width="39.1" height="39.1" rx="7" fill="#1dcfd2"/><text transform="translate(1815.8 797.3) scale(.82 1)">MAR</text></g>
<g class="tile"><rect x="1132.65" y="815.70" width="39.1" height="39.1" rx="7" fill="#1dcfd2"/><text transform="translate(1151.2 839.9) scale(.82 1)">STP</text></g>
<g class="tile"><rect x="1215.73" y="815.70" width="39.1" height="39.1" rx="7" fill="#1dcfd2"/><text transform="translate(1234.3 839.9) scale(.82 1)">EQG</text></g>
<g class="tile"><rect x="1257.27" y="815.70" width="39.1" height="39.1" rx="7" fill="#1dcfd2"/><text transform="translate(1275.8 839.9) scale(.82 1)">CON</text></g>
<g class="tile"><rect x="1298.81" y="815.70" width="39.1" height="39.1" rx="7" fill="#1dcfd2"/><text transform="translate(1317.4 839.9) scale(.82 1)">BUR</text></g>
<g class="tile"><rect x="1340.35" y="815.70" width="39.1" height="39.1" rx="7" fill="#1dcfd2"/><text transform="translate(1358.9 839.9) scale(.82 1)">RWA</text></g>
<g class="tile"><rect x="1381.89" y="815.70" width="39.1" height="39.1" rx="7" fill="#9a2bfb"/><text transform="translate(1400.4 839.9) scale(.82 1)">TAN</text></g>
<g class="tile"><rect x="1755.75" y="815.70" width="39.1" height="39.1" rx="7" fill="#1dcfd2"/><text transform="translate(1774.3 839.9) scale(.82 1)">PAL</text></g>
<g class="tile"><rect x="1797.29" y="815.70" width="39.1" height="39.1" rx="7" fill="#1dcfd2"/><text transform="translate(1815.8 839.9) scale(.82 1)">MIC</text></g>
<g class="tile"><rect x="1215.73" y="858.24" width="39.1" height="39.1" rx="7" fill="#1dcfd2"/><text transform="translate(1234.3 882.4) scale(.82 1)">ANG</text></g>
<g class="tile"><rect x="1257.27" y="858.24" width="39.1" height="39.1" rx="7" fill="#1dcfd2"/><text transform="translate(1275.8 882.4) scale(.82 1)">GAB</text></g>
<g class="tile"><rect x="1298.81" y="858.24" width="39.1" height="39.1" rx="7" fill="#9a2bfb"/><text transform="translate(1317.4 882.4) scale(.82 1)">MLW</text></g>
<g class="tile"><rect x="1340.35" y="858.24" width="39.1" height="39.1" rx="7" fill="#9a2bfb"/><text transform="translate(1358.9 882.4) scale(.82 1)">MOZ</text></g>
<g class="tile"><rect x="1423.43" y="858.24" width="39.1" height="39.1" rx="7" fill="#1dcfd2"/><text transform="translate(1442.0 882.4) scale(.82 1)">CMR</text></g>
<g class="tile"><rect x="1464.97" y="858.24" width="39.1" height="39.1" rx="7" fill="#9a2bfb"/><text transform="translate(1483.5 882.4) scale(.82 1)">SEY</text></g>
<g class="tile"><rect x="1755.75" y="858.24" width="39.1" height="39.1" rx="7" fill="#9a2bfb"/><text transform="translate(1774.3 882.4) scale(.82 1)">PNG</text></g>
<g class="tile"><rect x="1797.29" y="858.24" width="39.1" height="39.1" rx="7" fill="#9a2bfb"/><text transform="translate(1815.8 882.4) scale(.82 1)">NAU</text></g>
<g class="tile"><rect x="1838.83" y="858.24" width="39.1" height="39.1" rx="7" fill="#9a2bfb"/><text transform="translate(1857.4 882.4) scale(.82 1)">KIR</text></g>
<g class="tile"><rect x="1257.27" y="900.78" width="39.1" height="39.1" rx="7" fill="#9a2bfb"/><text transform="translate(1275.8 924.9) scale(.82 1)">ZAM</text></g>
<g class="tile"><rect x="1298.81" y="900.78" width="39.1" height="39.1" rx="7" fill="#9a2bfb"/><text transform="translate(1317.4 924.9) scale(.82 1)">BOT</text></g>
<g class="tile"><rect x="1340.35" y="900.78" width="39.1" height="39.1" rx="7" fill="#9a2bfb"/><text transform="translate(1358.9 924.9) scale(.82 1)">ZIM</text></g>
<g class="tile"><rect x="1423.43" y="900.78" width="39.1" height="39.1" rx="7" fill="#1dcfd2"/><text transform="translate(1442.0 924.9) scale(.82 1)">MYT</text></g>
<g class="tile"><rect x="1797.29" y="900.78" width="39.1" height="39.1" rx="7" fill="#9a2bfb"/><text transform="translate(1815.8 924.9) scale(.82 1)">SOL</text></g>
<g class="tile"><rect x="1838.83" y="900.78" width="39.1" height="39.1" rx="7" fill="#9a2bfb"/><text transform="translate(1857.4 924.9) scale(.82 1)">TUV</text></g>
<g class="tile"><rect x="1880.37" y="900.78" width="39.1" height="39.1" rx="7" fill="#9a2bfb"/><text transform="translate(1898.9 924.9) scale(.82 1)">SAM</text></g>
<g class="tile"><rect x="1298.81" y="943.32" width="39.1" height="39.1" rx="7" fill="#9a2bfb"/><text transform="translate(1317.4 967.5) scale(.82 1)">NAM</text></g>
<g class="tile"><rect x="1340.35" y="943.32" width="39.1" height="39.1" rx="7" fill="#9a2bfb"/><text transform="translate(1358.9 967.5) scale(.82 1)">SWZ</text></g>
<g class="tile"><rect x="1381.89" y="943.32" width="39.1" height="39.1" rx="7" fill="#9a2bfb"/><text transform="translate(1400.4 967.5) scale(.82 1)">LES</text></g>
<g class="tile"><rect x="1464.97" y="943.32" width="39.1" height="39.1" rx="7" fill="#1dcfd2"/><text transform="translate(1483.5 967.5) scale(.82 1)">MAD</text></g>
<g class="tile"><rect x="1506.51" y="943.32" width="39.1" height="39.1" rx="7" fill="#9a2bfb"/><text transform="translate(1525.1 967.5) scale(.82 1)">MRI</text></g>
<g class="tile"><rect x="1714.21" y="943.32" width="39.1" height="39.1" rx="7" fill="#9a2bfb"/><text transform="translate(1732.8 967.5) scale(.82 1)">AUS</text></g>
<g class="tile"><rect x="1797.29" y="943.32" width="39.1" height="39.1" rx="7" fill="#1dcfd2"/><text transform="translate(1815.8 967.5) scale(.82 1)">VAN</text></g>
<g class="tile"><rect x="1838.83" y="943.32" width="39.1" height="39.1" rx="7" fill="#9a2bfb"/><text transform="translate(1857.4 967.5) scale(.82 1)">FIJ</text></g>
<g class="tile"><rect x="1880.37" y="943.32" width="39.1" height="39.1" rx="7" fill="#9a2bfb"/><text transform="translate(1898.9 967.5) scale(.82 1)">TGA</text></g>
<g class="tile"><rect x="1340.35" y="985.86" width="39.1" height="39.1" rx="7" fill="#9a2bfb"/><text transform="translate(1358.9 1010.0) scale(.82 1)">RSA</text></g>
<g class="tile"><rect x="1464.97" y="985.86" width="39.1" height="39.1" rx="7" fill="#1dcfd2"/><text transform="translate(1483.5 1010.0) scale(.82 1)">REU</text></g>
<g class="tile"><rect x="1797.29" y="1028.40" width="39.1" height="39.1" rx="7" fill="#9a2bfb"/><text transform="translate(1815.8 1052.5) scale(.82 1)">NZL</text></g>
</g>
<g id="chart">
<text x="719.0" y="861.9" font-size="17.4" font-weight="bold" font-style="normal" fill="#111" text-anchor="start" textLength="329.6" lengthAdjust="spacingAndGlyphs" stroke="#111" stroke-width=".8">LHT Common in Former British Colonies</text>
<text x="719.0" y="883.4" font-size="16.4" font-weight="bold" font-style="normal" fill="#444" text-anchor="start" textLength="334.7" lengthAdjust="spacing" class="sf">The Caribbean, Southern Asia, and Oceania have</text>
<text x="719.0" y="904.3" font-size="16.4" font-weight="bold" font-style="normal" fill="#444" text-anchor="start" textLength="310.6" lengthAdjust="spacing" class="sf">the highest proportion of countries with LHT.</text>
</g>
<g id="bars">
<line x1="714" x2="940" y1="915" y2="915" stroke="#c9c9c9" stroke-width="1" stroke-dasharray="7 4"/>
<line x1="714" x2="940" y1="932.3" y2="932.3" stroke="#c9c9c9" stroke-width="1" stroke-dasharray="7 4"/>
<line x1="714" x2="940" y1="1002.6" y2="1002.6" stroke="#c9c9c9" stroke-width="1" stroke-dasharray="7 4"/>
<line x1="714" x2="940" y1="1090.4" y2="1090.4" stroke="#c9c9c9" stroke-width="1" stroke-dasharray="7 4"/>
<line x1="714" x2="940" y1="1108.3" y2="1108.3" stroke="#c9c9c9" stroke-width="1" stroke-dasharray="7 4"/>
<line x1="714" x2="940" y1="1125.6" y2="1125.6" stroke="#c9c9c9" stroke-width="1" stroke-dasharray="7 4"/>
<text x="723.0" y="929.1" font-size="15.4" font-weight="normal" font-style="normal" fill="#727272" text-anchor="start" >Africa</text>
<text transform="translate(813.6 930.0) scale(1.09 1)" font-size="16.4" fill="#727272">Africa</text>
<rect x="942.0" y="919.00" width="98.5" height="11.0" fill="#1dcfd2"/>
<rect x="1041.5" y="919.00" width="30.5" height="11.0" fill="#9a2bfb"/>
<text x="723.0" y="946.6" font-size="15.4" font-weight="normal" font-style="normal" fill="#727272" text-anchor="start" >America</text>
<text transform="translate(813.6 947.5) scale(1.09 1)" font-size="16.4" fill="#727272">Caribbean</text>
<rect x="942.0" y="936.48" width="30.4" height="11.0" fill="#1dcfd2"/>
<rect x="973.4" y="936.48" width="98.6" height="11.0" fill="#9a2bfb"/>
<text transform="translate(813.6 965.0) scale(1.09 1)" font-size="16.4" fill="#727272">Central America</text>
<rect x="942.0" y="953.96" width="130.0" height="11.0" fill="#1dcfd2"/>
<text transform="translate(813.6 982.4) scale(1.09 1)" font-size="16.4" fill="#727272">North America</text>
<rect x="942.0" y="971.44" width="130.0" height="11.0" fill="#1dcfd2"/>
<text transform="translate(813.6 999.9) scale(1.09 1)" font-size="16.4" fill="#727272">South America</text>
<rect x="942.0" y="988.92" width="102.3" height="11.0" fill="#1dcfd2"/>
<rect x="1045.3" y="988.92" width="26.7" height="11.0" fill="#9a2bfb"/>
<text x="723.0" y="1016.5" font-size="15.4" font-weight="normal" font-style="normal" fill="#727272" text-anchor="start" >Asia</text>
<text transform="translate(813.6 1017.4) scale(1.09 1)" font-size="16.4" fill="#727272">Central Asia</text>
<rect x="942.0" y="1006.40" width="130.0" height="11.0" fill="#1dcfd2"/>
<text transform="translate(813.6 1034.9) scale(1.09 1)" font-size="16.4" fill="#727272">Eastern Asia</text>
<rect x="942.0" y="1023.88" width="81.2" height="11.0" fill="#1dcfd2"/>
<rect x="1024.2" y="1023.88" width="47.8" height="11.0" fill="#9a2bfb"/>
<text transform="translate(813.6 1052.4) scale(1.09 1)" font-size="16.4" fill="#727272">South East Asia</text>
<rect x="942.0" y="1041.36" width="58.6" height="11.0" fill="#1dcfd2"/>
<rect x="1001.6" y="1041.36" width="70.4" height="11.0" fill="#9a2bfb"/>
<text transform="translate(813.6 1069.8) scale(1.09 1)" font-size="16.4" fill="#727272">Southern Asia</text>
<rect x="942.0" y="1058.84" width="28.6" height="11.0" fill="#1dcfd2"/>
<rect x="971.6" y="1058.84" width="100.4" height="11.0" fill="#9a2bfb"/>
<text transform="translate(813.6 1087.3) scale(1.09 1)" font-size="16.4" fill="#727272">Western Asia</text>
<rect x="942.0" y="1076.32" width="123.9" height="11.0" fill="#1dcfd2"/>
<rect x="1066.9" y="1076.32" width="5.1" height="11.0" fill="#9a2bfb"/>
<text x="723.0" y="1103.9" font-size="15.4" font-weight="normal" font-style="normal" fill="#727272" text-anchor="start" >Europe</text>
<text transform="translate(813.6 1104.8) scale(1.09 1)" font-size="16.4" fill="#727272">Europe</text>
<rect x="942.0" y="1093.80" width="118.0" height="11.0" fill="#1dcfd2"/>
<rect x="1061.0" y="1093.80" width="11.0" height="11.0" fill="#9a2bfb"/>
<text x="723.0" y="1121.4" font-size="15.4" font-weight="normal" font-style="normal" fill="#727272" text-anchor="start" >Oceania</text>
<text transform="translate(813.6 1122.3) scale(1.09 1)" font-size="16.4" fill="#727272">Oceania</text>
<rect x="942.0" y="1111.28" width="37.0" height="11.0" fill="#1dcfd2"/>
<rect x="980.0" y="1111.28" width="92.0" height="11.0" fill="#9a2bfb"/>
<line x1="942" x2="942" y1="1127" y2="1131" stroke="#999" stroke-width="1"/>
<line x1="1007.5" x2="1007.5" y1="1127" y2="1131" stroke="#999" stroke-width="1"/>
<line x1="1072.5" x2="1072.5" y1="1127" y2="1131" stroke="#999" stroke-width="1"/>
<text x="940.5" y="1151.0" font-size="14.2" font-weight="normal" font-style="normal" fill="#777" text-anchor="start" >0%</text>
<text x="1007.5" y="1151.0" font-size="14.2" font-weight="normal" font-style="normal" fill="#777" text-anchor="middle" >50%</text>
<text x="1079.0" y="1151.0" font-size="14.2" font-weight="normal" font-style="normal" fill="#777" text-anchor="end" >100%</text>
</g>
<g id="footer">
<text x="135.2" y="1188.0" font-size="16.7" font-weight="normal" font-style="normal" fill="#222" text-anchor="start" textLength="1104.4" lengthAdjust="spacing" stroke="#222" stroke-width=".35">Source: worldstandards list of left- &amp; right-driving countries | Photo by Herson Rodriguez on Unsplash | Left- and right-driving traffiic - wikipedia</text>
<text x="1435.0" y="1187.5" font-size="18.2" font-weight="normal" font-style="normal" fill="#222" text-anchor="start" textLength="131.0" lengthAdjust="spacing" stroke="#222" stroke-width=".75">DESIGNED BY</text>
<rect x="1581.5" y="1155.5" width="326" height="43.5" fill="none" stroke="#222" stroke-width="1.3"/>
<line x1="1785.2" x2="1785.2" y1="1155.5" y2="1199" stroke="#222" stroke-width="1.3"/>
<text x="1594.0" y="1186.7" font-size="24.6" font-weight="normal" font-style="normal" fill="#111" text-anchor="start" textLength="178.0" lengthAdjust="spacing" stroke="#111" stroke-width=".4">ADEDAMOLA</text>
<text x="1796.8" y="1186.7" font-size="24.6" font-weight="normal" font-style="normal" fill="#111" text-anchor="start" textLength="100.0" lengthAdjust="spacing" stroke="#111" stroke-width=".4">LADIPO</text>
</g>
<defs>
<path id="vsil" d="M240,990 L255,973.2 L540.5,973.5 L553.5,988 L555.5,991 L570,1013 L584,1036 Q587,1040 587.5,1046 L588.5,1100.6 L601,1100.6 L601,1114.8 L588,1114.8 L586,1116.5 L548,1116.5 C546,1095 535,1082.6 512,1082.6 C490,1082.6 480,1095 476,1113 L335,1113 C333,1098 320,1089.5 297,1089.5 C275,1089.5 264,1098 260,1116.5 L222,1116.5 L218.2,1115.5 L218.2,1103.5 L220,1103 L221,1070 L223.5,1036 Q226,1010 234,995 Q236,991 240,990 Z"/>
<clipPath id="gclip"><rect x="100" y="975.6" width="700" height="200"/></clipPath>
<clipPath id="vclip"><use href="#vsil"/></clipPath>
</defs>
<g id="van">
<!-- purple ghost -->
<g transform="translate(-81.5,0)" clip-path="url(#gclip)">
 <circle cx="296" cy="1124" r="27.7" fill="#9f94c6"/><circle cx="296" cy="1124" r="18" fill="#b9a3d5"/>
 <circle cx="510.2" cy="1123.5" r="28.5" fill="#9f94c6"/><circle cx="510.2" cy="1123.5" r="18" fill="#b9a3d5"/>
 <rect x="256" y="1082" width="296" height="31" fill="#bea3d5"/>
 <use href="#vsil" fill="#bea3d5"/>
 <path d="M257,975.6 L542.5,975.6 L553.5,988 L241,989 Z" fill="#c8aedd"/>
 <rect x="240" y="996" width="17" height="30" fill="#ab93c8"/>
 <rect x="260" y="996" width="98" height="33" rx="6" fill="#c6add9" stroke="#b199cc" stroke-width="1.5"/>
</g>
<!-- blue ghost -->
<g transform="translate(-40,0)" opacity=".78" clip-path="url(#gclip)">
 <circle cx="296" cy="1124" r="27.7" fill="#a79bd0"/><circle cx="296" cy="1124" r="18" fill="#9fd6ee"/>
 <circle cx="510.2" cy="1123.5" r="28.5" fill="#a79bd0"/><circle cx="510.2" cy="1123.5" r="18" fill="#9fd6ee"/>
 <rect x="256" y="1082" width="296" height="31" fill="#7ea6d8"/>
 <use href="#vsil" fill="#7ea6d8"/>
 <path d="M257,975.6 L542.5,975.6 L553.5,988 L241,989 Z" fill="#8cbde6"/>
 <rect x="240" y="996" width="17" height="30" fill="#7a78c0"/>
 <rect x="260" y="996" width="98" height="33" rx="6" fill="#8db0de" stroke="#7795cf" stroke-width="1.5"/>
</g>
<!-- main van -->
<g>
 <!-- underside shadow -->
 <rect x="224" y="1112" width="40" height="10" fill="#1b1b1b"/>
 <rect x="330" y="1110" width="150" height="4.2" fill="#3a3a3a"/>
 <!-- wheel wells -->
 <path d="M259,1118 C262,1097 275,1088.5 297,1088.5 C320,1088.5 333,1097 336,1118 Z" fill="#161616"/>
 <path d="M475,1118 C479,1094 490,1081.6 512,1081.6 C535,1081.6 546,1094 549,1118 Z" fill="#161616"/>
 <!-- spare tyre -->
 <ellipse cx="598.7" cy="1067.5" rx="9.2" ry="27.3" fill="#1c1c1c"/>
 <ellipse cx="594" cy="1067.5" rx="4" ry="21" fill="#2c2c2c"/>
 <!-- body -->
 <use href="#vsil" fill="#848484"/>
 <g clip-path="url(#vclip)">
  <rect x="210" y="988" width="400" height="50" fill="#8f8f8f"/>
  <!-- rear face highlight -->
  <path d="M214,1120 L218,1040 Q222,1005 236,988 L246,988 Q233,1008 230,1040 L229,1120 Z" fill="#c9c9c9"/>
  <path d="M214,1120 L218,1060 L224,1060 L223,1120 Z" fill="#e4e4e4"/>
  <!-- front highlight -->
  <path d="M575,1040 L590,1040 L590,1100 L581,1100 Z" fill="#a9a9a9"/>
  <!-- lower sill darker -->
  <rect x="330" y="1104" width="150" height="10" fill="#7d7d7d"/>
  <!-- belt line -->
  <rect x="232" y="1036.6" width="134" height="2" fill="#4f4f4f"/>
  <rect x="366" y="1036.8" width="215" height="1.4" fill="#7c7c7c"/>
  <!-- panel lines -->
  <rect x="362.6" y="991" width="1.6" height="124" fill="#6d6d6d"/>
  <rect x="472.8" y="991" width="2" height="124" fill="#666"/>
  <path d="M474,1079 L520,1079" stroke="#6f6f6f" stroke-width="1.2" fill="none"/>
  <path d="M574,1040 L578,1108" stroke="#777" stroke-width="1.2" fill="none"/>
  <!-- soft reflections -->
  <rect x="378" y="1058" width="60" height="18" fill="#939393" opacity=".6"/>
  <rect x="250" y="1046" width="95" height="10" fill="#949494" opacity=".5"/>
 </g>
 <!-- roof -->
 <path d="M255,973.2 L483,973.3 L483,988.4 L240.5,989.4 Z" fill="#cdcdcd"/>
 <path d="M485,973.3 L540.5,973.5 L553.8,988.6 L485,988.4 Z" fill="#bcbcbc"/>
 <rect x="482.6" y="971.8" width="3" height="17" fill="#2a2a2a"/>
 <path d="M239,989 L554,988.2 L555.5,991 L238,992 Z" fill="#5c5c5c"/>
 <!-- vents -->
 <path d="M242,996 L257,995 L255,1026 L239,1026 Z" fill="#5a5a5a"/>
 <g stroke="#8e8e8e" stroke-width="1">
  <path d="M241,1000 L257,999.4"/><path d="M241,1004 L257,1003.4"/><path d="M240.6,1008 L256.6,1007.4"/><path d="M240.3,1012 L256.3,1011.4"/><path d="M240,1016 L256,1015.4"/><path d="M239.7,1020 L255.7,1019.4"/><path d="M239.4,1024 L255.4,1023.4"/>
 </g>
 <!-- window 1 -->
 <rect x="259.5" y="996" width="98.5" height="33.5" rx="6" fill="#cfcfcf" stroke="#333" stroke-width="1.8"/>
 <g>
  <rect x="262" y="998" width="20" height="30" rx="4" fill="#b5b5b5"/>
  <path d="M266,1028 L276,998 M271,1028 L281,1000 M264,1015 L272,998" stroke="#e9e9e9" stroke-width="1.6" fill="none"/>
  <rect x="282" y="998" width="52" height="8" fill="#8f8f8f"/>
  <path d="M284,1028 L288,1010 Q300,1003 327,1005 L333,1010 L336,1028 Z" fill="#f4f4f4"/>
  <rect x="282" y="1021" width="54" height="7" fill="#d8d8d8"/>
  <rect x="334" y="998" width="22" height="30" rx="3" fill="#dcdcdc"/>
  <path d="M338,998 L338,1028 M343,998 L343,1028 M348,998 L348,1028 M353,999 L353,1027" stroke="#a9a9a9" stroke-width="1.3" fill="none"/>
 </g>
 <!-- window 2 -->
 <rect x="372.5" y="997.6" width="92.3" height="31" fill="#474747" stroke="#c4c4c4" stroke-width="1.8"/>
 <rect x="374" y="1019" width="89" height="8.5" fill="#6a6a6a"/>
 <rect x="373" y="1006.6" width="91" height="1.6" fill="#c9c9c9"/>
 <rect x="373" y="1017.4" width="91" height="1.6" fill="#c9c9c9"/>
 <path d="M381,1012 L396,1009 L410,1012 L425,1009.5 L444,1012 L444,1014 L381,1014 Z" fill="#dedede"/>
 <!-- window 3 -->
 <path d="M482.3,996.8 L546.5,996.8 L561.2,1027.6 L557.5,1030.3 L482.3,1030.3 Z" fill="#777" stroke="#454545" stroke-width="1.5" stroke-linejoin="round"/>
 <path d="M483.5,998 L520,998 L520,1011 L483.5,1009 Z" fill="#cfcfcf"/>
 <path d="M522,998 L545.5,998 L559.5,1027.5 L556.5,1029.4 L530,1029.4 L522,1012 Z" fill="#d6d6d6"/>
 <path d="M532,1003 L538,1003 L545,1029 L537,1029 Z" fill="#8a8a8a"/>
 <path d="M546,1003 L549,1003 L553,1029 L549,1029 Z" fill="#7d7d7d"/>
 <rect x="519.6" y="997" width="2" height="33" fill="#5a5a5a"/>
 <path d="M547,997 L562,1028" stroke="#3f3f3f" stroke-width="2" fill="none"/>
 <!-- handles, lamps -->
 <rect x="447.5" y="1050.6" width="18" height="1.8" rx=".9" fill="#c2c2c2"/>
 <rect x="478" y="1051" width="15.5" height="1.8" rx=".9" fill="#c2c2c2"/>
 <circle cx="259" cy="1052" r="2.6" fill="#d5d5d5"/><circle cx="259" cy="1052" r="1" fill="#777"/>
 <rect x="564" y="1094" width="9.5" height="6.5" rx="1" fill="#8f8f8f" stroke="#555" stroke-width="1"/>
 <rect x="232.5" y="1093" width="9" height="7" rx="1" fill="#4d4d4d" transform="rotate(-12 237 1096)"/>
 <!-- bumpers -->
 <rect x="218" y="1103.5" width="17" height="12.4" rx="2" fill="#efefef"/>
 <rect x="224" y="1115" width="14" height="4" fill="#2a2a2a"/>
 <path d="M581,1101 L601,1100.6 L601,1114.8 L583,1114.8 Z" fill="#d9d9d9"/>
 <rect x="581" y="1111.5" width="20" height="3.3" fill="#8c8c8c"/>
 <!-- wheels -->
 <g>
  <circle cx="296" cy="1124" r="28.1" fill="#1a1a1a"/>
  <circle cx="296" cy="1124" r="18.3" fill="#b9b9b9"/>
  <circle cx="296" cy="1124" r="14.8" fill="none" stroke="#6e6e6e" stroke-width="2.6" stroke-dasharray="2.2 1.6"/>
  <circle cx="296" cy="1124" r="11.5" fill="#cbcbcb"/>
  <circle cx="296" cy="1124" r="5" fill="#b0b0b0"/>
  <ellipse cx="510.2" cy="1123.3" rx="29.2" ry="28.2" fill="#1a1a1a"/>
  <circle cx="510.2" cy="1123.5" r="17.8" fill="#b9b9b9"/>
  <circle cx="510.2" cy="1123.5" r="14.4" fill="none" stroke="#6e6e6e" stroke-width="2.6" stroke-dasharray="2.2 1.6"/>
  <circle cx="510.2" cy="1123.5" r="11.2" fill="#cbcbcb"/>
  <circle cx="510.2" cy="1123.5" r="5" fill="#b0b0b0"/>
 </g>
</g>
</g>

</svg>
</body></html>
